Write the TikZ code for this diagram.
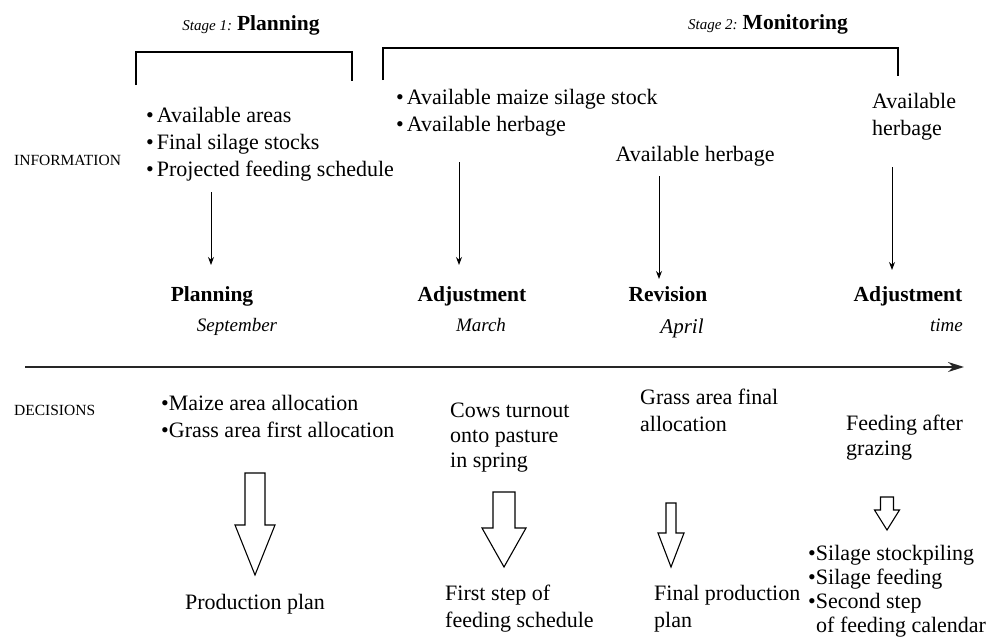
\documentclass[tikz,border=0pt]{standalone}
\usepackage{fontspec}
\setmainfont{Liberation Serif}
\usetikzlibrary{calc}
\usetikzlibrary{positioning}
\usetikzlibrary{arrows.meta}

\newcommand{\txt}{\fontsize{22}{27}\selectfont}
\newcommand{\blockarrow}[6]{%
  \draw[bigarrow] (#1-#3,#2) -- (#1+#3,#2) -- (#1+#3,#4) -- (#1+#5,#4)
    -- (#1,#6) -- (#1-#5,#4) -- (#1-#3,#4) -- cycle;}

\begin{document}
\begin{tikzpicture}[%
  x=1pt, y=-1pt,
  >={Stealth[length=8pt,width=6pt]},
  info/.style={anchor=north west, align=left, inner sep=0pt, font=\txt},
  phase/.style={anchor=base, inner sep=0pt, font=\fontsize{21.5}{26}\selectfont\bfseries},
  month/.style={anchor=base, inner sep=0pt, font=\fontsize{19}{23}\selectfont\itshape},
  rowlabel/.style={anchor=base west, inner sep=0pt, font=\fontsize{15.5}{19}\selectfont},
  bracket/.style={line width=1.3pt},
  infoarrow/.style={->, line width=1pt},
  timeline/.style={-{Stealth[length=16pt,width=10pt]}, line width=1.6pt, black!85},
  bigarrow/.style={line width=1.1pt},
]

  \useasboundingbox (0,0) rectangle (991,643);

  % stages
  \node[anchor=base, inner sep=0pt] (s1) at (251,30)
    {\fontsize{15}{18}\selectfont\itshape Stage 1: \fontsize{21.5}{26}\selectfont\upshape\bfseries Planning};
  \node[anchor=base, inner sep=0pt] (s2) at (768,29)
    {\fontsize{15}{18}\selectfont\itshape Stage 2: \fontsize{21.5}{26}\selectfont\upshape\bfseries Monitoring};

  \draw[bracket] (136,85) -- (136,52) -- (352,52) -- (352,81);
  \draw[bracket] (383,80) -- (383,48) -- (898,48) -- (898,76);

  % information
  \node[rowlabel] (inf) at (14,165) {INFORMATION};
  \node[info] (i1) at (146,107)
    {\textbullet\hspace{3pt}Available areas\\
     \textbullet\hspace{3pt}Final silage stocks\\
     \textbullet\hspace{3pt}Projected feeding schedule};
  \node[info] (i2) at (396,89)
    {\textbullet\hspace{3pt}Available maize silage stock\\
     \textbullet\hspace{3pt}Available herbage};
  \node[info, anchor=base] (i3) at (695,161) {Available herbage};
  \node[info] (i4) at (872,93) {Available\\herbage};

  \coordinate (a1) at (211,192);
  \coordinate (a2) at (459,162);
  \coordinate (a3) at (659,176);
  \coordinate (a4) at (892,167);
  \draw[infoarrow] (a1) -- ++(0,73);
  \draw[infoarrow] (a2) -- ++(0,103);
  \draw[infoarrow] (a3) -- ++(0,103);
  \draw[infoarrow] (a4) -- ++(0,103);

  \node[phase] (p1) at (212,301) {Planning};
  \node[phase] (p2) at (472,301) {Adjustment};
  \node[phase] (p3) at (668,301) {Revision};
  \node[phase] (p4) at (908,301) {Adjustment};

  % time axis
  \node[month] (m1) at (237,331) {September};
  \node[month] (m2) at (481,331) {March};
  \node[month, font=\fontsize{21}{25}\selectfont\itshape] (m3) at (682,333) {April};
  \node[month, anchor=base east] (m4) at (963,331) {time};
  \coordinate (t0) at (25,367);
  \coordinate (t1) at (964,367);
  \draw[timeline] (t0) -- (t1);

  % decisions
  \node[rowlabel] (dec) at (14,415) {DECISIONS};
  \node[info] (d1) at (161,395)
    {\textbullet Maize area allocation\\
     \textbullet Grass area first allocation};
  \node[info, font=\fontsize{22}{25}\selectfont] (d2) at (450,403)
    {Cows turnout\\onto pasture\\in spring};
  \node[info] (d3) at (640,389) {Grass area final\\allocation};
  \node[info, font=\fontsize{22}{25}\selectfont] (d4) at (846,415) {Feeding after\\grazing};

  \blockarrow{255}{473}{10}{525}{20}{575}
  \blockarrow{504}{492}{11}{528}{22}{567}
  \blockarrow{671}{503}{5}{533}{13}{567}
  \blockarrow{887}{497}{6.5}{510}{12.5}{530}

  % results
  \node[info, anchor=base] (r1) at (255,609) {Production plan};
  \node[info] (r2) at (445,585) {First step of\\feeding schedule};
  \node[info] (r3) at (654,585) {Final production\\plan};
  \node[info, font=\fontsize{22}{24}\selectfont] (r4) at (808,545)
    {\textbullet Silage stockpiling\\
     \textbullet Silage feeding\\
     \textbullet Second step\\
     \hspace{8pt}of feeding calendar};

\end{tikzpicture}
\end{document}
